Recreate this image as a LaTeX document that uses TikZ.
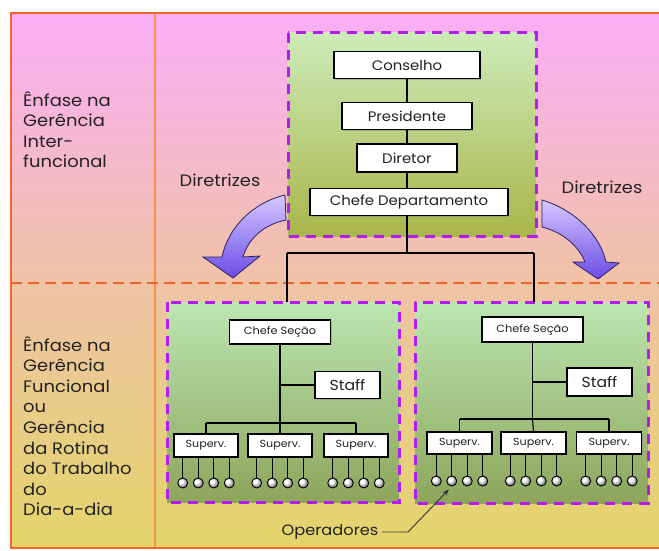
\documentclass[tikz,border=0pt]{standalone}
\usepackage{fontspec}
\setmainfont{Poppins}[FakeStretch=1.08]
\usetikzlibrary{shadows,arrows.meta}
\definecolor{bgpink}{HTML}{FBAEF7}
\definecolor{bgpeach}{HTML}{F0C3A6}
\definecolor{bgyellow}{HTML}{E3D56A}
\definecolor{frameorange}{HTML}{F2652A}
\definecolor{divorange}{HTML}{F4924C}
\definecolor{dashviolet}{HTML}{B31BF5}
\definecolor{gtop}{HTML}{CDEBB9}
\definecolor{gbot}{HTML}{A9B64A}
\definecolor{g2top}{HTML}{BCE6B2}
\definecolor{g2bot}{HTML}{8DA55A}
\definecolor{arrtop}{HTML}{D6C8FF}
\definecolor{arrbot}{HTML}{6A4CE6}
\definecolor{arrline}{HTML}{2E2060}
\definecolor{inktext}{HTML}{222222}
\tikzset{
  orgbox/.style={draw=black, line width=1.1pt, fill=white, inner sep=0pt, text=inktext,
    drop shadow={shadow xshift=1.3pt, shadow yshift=-1.3pt, opacity=.45}},
  topbox/.style={orgbox, minimum height=27pt, font=\fontsize{13.8}{15}\selectfont},
  secbox/.style={orgbox, minimum width=101pt, minimum height=24pt, font=\fontsize{10.5}{12}\selectfont},
  staffbox/.style={orgbox, minimum width=65pt, minimum height=27pt, font=\fontsize{14.5}{16}\selectfont},
  supbox/.style={orgbox, minimum width=64pt, minimum height=23pt, font=\fontsize{10.3}{12}\selectfont},
  opball/.style={circle, draw=black, line width=0.9pt, inner sep=0pt, minimum size=10pt,
    ball color=white},
  conn/.style={draw=black, line width=1.1pt},
  unitframe/.style={draw=dashviolet, line width=3pt, dash pattern=on 10pt off 7pt},
  sidelabel/.style={anchor=north west, align=left, inner sep=0pt,
    font=\fontsize{16.6}{20.6}\selectfont, text=inktext},
  flowlabel/.style={font=\fontsize{16.5}{18}\selectfont, text=inktext},
  bigarrow/.style={top color=arrtop, bottom color=arrbot, draw=arrline, line width=0.8pt}
}
\begin{document}
\begin{tikzpicture}[x=1pt,y=-1pt]
\useasboundingbox (0,0) rectangle (659,551);
\fill[white] (0,0) rectangle (659,551);
% background bands
\shade[top color=bgpink, bottom color=bgpeach] (11,13) rectangle (659,283);
\shade[top color=bgpeach, bottom color=bgyellow] (11,283) rectangle (659,548);
\draw[divorange, line width=1.6pt] (155,13) -- (155,548);
\draw[frameorange, line width=2pt] (662,13) -- (11,13) -- (11,548) -- (662,548);
\draw[frameorange, line width=2.5pt, dash pattern=on 11pt off 6pt] (11,283) -- (659,283);

% side labels
\node[sidelabel] (lab1) at (23,91) {Ênfase na\\Gerência\\Inter-\\funcional};
\node[sidelabel] (lab2) at (23,336) {Ênfase na\\Gerência\\Funcional\\ou\\Gerência\\da Rotina\\do Trabalho\\do\\Dia-a-dia};

% upper management block
\shade[top color=gtop, bottom color=gbot] (288,33) rectangle (536,236);
\draw[unitframe] (288,33) rectangle (536,236);
\node[topbox, minimum width=146pt] (cons) at (407,65) {Conselho};
\node[topbox, minimum width=130pt] (pres) at (407,116) {Presidente};
\node[topbox, minimum width=100pt, minimum height=28pt] (dir) at (407,158) {Diretor};
\node[topbox, minimum width=198pt] (chefd) at (409,202) {Chefe Departamento};
\draw[conn] (cons.south) -- (cons.south |- pres.north);
\draw[conn] (pres.south) -- (pres.south |- dir.north);
\draw[conn] (dir.south) -- (dir.south |- chefd.north);
\coordinate (split) at (407,253);
\coordinate (jl) at (287,253);
\coordinate (jr) at (534,253);
\draw[conn] (chefd.south -| split) -- (split);
\draw[conn] (jl) -- (jr);

% directive arrows
\node[flowlabel] (dl) at (220,180) {Diretrizes};
\node[flowlabel] (dr) at (602,187) {Diretrizes};
\path[bigarrow] (285,195) .. controls (252,203) and (228,228) .. (222,257)
  -- (203,257) -- (233,278) -- (260,256) -- (243,257)
  .. controls (248,240) and (262,225) .. (286,220) -- cycle;
\path[bigarrow] (542,200) .. controls (575,210) and (600,235) .. (606,262)
  -- (619,263) -- (598,279) -- (573,262) -- (585,262)
  .. controls (578,245) and (562,232) .. (542,227) -- cycle;

% functional units
\shade[top color=g2top, bottom color=g2bot] (167,302) rectangle (399,502);
\draw[unitframe] (167,302) rectangle (399,502);
\shade[top color=g2top, bottom color=g2bot] (415,302) rectangle (648,503);
\draw[unitframe] (415,302) rectangle (648,503);
\draw[conn] (jl) -- (jl |- 0,302);
\draw[conn] (jr) -- (jr |- 0,302);

% left unit
\node[secbox] (cs1) at (280,332) {Chefe Seção};
\node[staffbox] (st1) at (347.5,385) {Staff};
\coordinate (h1) at (280,423);
\draw[conn] (cs1.south) -- (h1);
\draw[conn] (st1.west) -- (st1.west -| cs1.south);
\foreach \i/\cx in {1/206,2/280,3/356}{
  \node[supbox] (sa\i) at (\cx,445.5) {Superv.};
  \foreach \j/\d in {1/-23.25,2/-7.75,3/7.75,4/23.25}{
    \node[opball] (oa\i\j) at (\cx+\d,483) {};
    \draw[conn] (oa\i\j.north |- sa\i.south) -- (oa\i\j.north);
  }
}
\draw[conn] (sa1.north |- h1) -- (sa3.north |- h1);
\foreach \i in {1,3}{\draw[conn] (sa\i.north |- h1) -- (sa\i.north);}
\draw[conn] (h1) -- (sa2.north);

% right unit
\node[secbox, minimum height=25pt] (cs2) at (532.5,329.5) {Chefe Seção};
\node[staffbox, minimum height=28pt] (st2) at (599.5,382) {Staff};
\coordinate (h2) at (532.5,419);
\draw[conn] (cs2.south) -- (h2);
\draw[conn] (st2.west) -- (st2.west -| cs2.south);
\foreach \i/\cx in {1/459.5,2/533.5,3/609}{
  \node[supbox, minimum width=65pt, minimum height=22pt] (sb\i) at (\cx,443) {Superv.};
  \foreach \j/\d in {1/-23.25,2/-7.75,3/7.75,4/23.25}{
    \node[opball] (ob\i\j) at (\cx+\d,481) {};
    \draw[conn] (ob\i\j.north |- sb\i.south) -- (ob\i\j.north);
  }
}
\draw[conn] (sb1.north |- h2) -- (sb3.north |- h2);
\foreach \i in {1,3}{\draw[conn] (sb\i.north |- h2) -- (sb\i.north);}
\draw[conn] (h2) -- (sb2.north);

% operators callout
\node[flowlabel, font=\fontsize{15}{17}\selectfont] (op) at (330,532) {Operadores};
\coordinate (opbend) at (408,532);
\draw[black!80, line width=0.9pt, -{Stealth[length=7pt,width=5pt]}, shorten >=4pt]
  (op.east) -- (opbend) -- (ob12.south);
\end{tikzpicture}
\end{document}
